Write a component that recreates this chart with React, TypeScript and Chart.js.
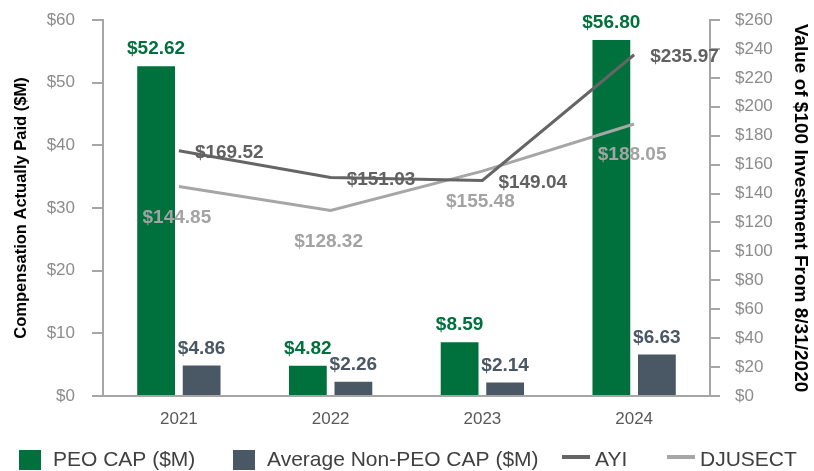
import React, { useEffect, useRef } from 'react';
import { Chart, registerables } from 'chart.js';

Chart.register(...registerables);

const categories = ['2021', '2022', '2023', '2024'];
const peoCap = [52.62, 4.82, 8.59, 56.8];
const nonPeoCap = [4.86, 2.26, 2.14, 6.63];
const ayi = [169.52, 151.03, 149.04, 235.97];
const djusect = [144.85, 128.32, 155.48, 188.05];

const seriesNames = ['PEO CAP ($M)', 'Average Non-PEO CAP ($M)', 'AYI', 'DJUSECT'];
const leftMax = 60;
const leftStep = 10;
const rightMax = 260;
const rightStep = 20;

const FONT = '"Liberation Sans", Arial, Helvetica, sans-serif';
const GREEN = '#00703c';
const SLATE = '#4a5765';
const DARK = '#656565';
const LIGHT = '#a6a6a6';
const AXIS = '#a6a6a6';

// label placement style per dataset index
const labelModes = ['top', 'top', 'right', 'below'];
const labelColors = [GREEN, SLATE, '#616161', '#a3a3a3'];

const valueLabels = {
  id: 'valueLabels',
  afterDatasetsDraw(chart: any) {
    const ctx = chart.ctx;
    chart.data.datasets.forEach((ds: any, i: number) => {
      const meta = chart.getDatasetMeta(i);
      ctx.save();
      ctx.font = `bold 19px ${FONT}`;
      ctx.fillStyle = labelColors[i];
      ctx.textBaseline = 'middle';
      meta.data.forEach((el: any, j: number) => {
        const v = ds.data[j] as number;
        const text = '$' + v.toFixed(2);
        const mode = labelModes[i];
        if (mode === 'top') {
          ctx.textAlign = 'center';
          ctx.fillText(text, el.x, el.y - 17);
        } else if (mode === 'right') {
          ctx.textAlign = 'left';
          ctx.fillText(text, el.x + 16, el.y + 2);
        } else {
          ctx.textAlign = 'center';
          ctx.fillText(text, el.x - 2, el.y + 31);
        }
      });
      ctx.restore();
    });
  },
};

// legend item left edges and vertical center
const legendItemX = [19, 233, 562, 667];
const legendY = 460;

const customLegend = {
  id: 'customLegend',
  afterDraw(chart: any) {
    const ctx = chart.ctx;
    ctx.save();
    ctx.font = `21px ${FONT}`;
    ctx.textBaseline = 'middle';
    ctx.textAlign = 'left';
    chart.data.datasets.forEach((ds: any, i: number) => {
      const x = legendItemX[i];
      const isBar = ds.type === 'bar';
      if (isBar) {
        ctx.fillStyle = ds.backgroundColor;
        ctx.fillRect(x, legendY - 10, 22, 20);
        ctx.fillStyle = '#404040';
        ctx.fillText(ds.label, x + 34, legendY);
      } else {
        ctx.fillStyle = ds.borderColor;
        ctx.fillRect(x, legendY - 5, 28, 4);
        ctx.fillStyle = '#404040';
        ctx.fillText(ds.label, x + 33, legendY);
      }
    });
    ctx.restore();
  },
};

export default function App() {
  const canvasRef = useRef<HTMLCanvasElement | null>(null);

  useEffect(() => {
    const canvas = canvasRef.current;
    if (!canvas) return;
    Chart.defaults.font.family = FONT;
    const chart = new Chart(canvas, {
      type: 'bar',
      data: {
        labels: categories,
        datasets: [
          {
            type: 'bar',
            label: seriesNames[0],
            data: peoCap,
            backgroundColor: GREEN,
            yAxisID: 'y',
            order: 2,
            barPercentage: 0.83,
            categoryPercentage: 0.6,
          },
          {
            type: 'bar',
            label: seriesNames[1],
            data: nonPeoCap,
            backgroundColor: SLATE,
            yAxisID: 'y',
            order: 2,
            barPercentage: 0.83,
            categoryPercentage: 0.6,
          },
          {
            type: 'line',
            label: seriesNames[2],
            data: ayi,
            borderColor: DARK,
            backgroundColor: DARK,
            borderWidth: 3,
            pointRadius: 0,
            tension: 0,
            yAxisID: 'y1',
            order: 1,
          },
          {
            type: 'line',
            label: seriesNames[3],
            data: djusect,
            borderColor: LIGHT,
            backgroundColor: LIGHT,
            borderWidth: 3,
            pointRadius: 0,
            tension: 0,
            yAxisID: 'y1',
            order: 1,
          },
        ] as any,
      },
      options: {
        responsive: false,
        animation: false,
        layout: { padding: { top: 20, left: 0, right: 0, bottom: 0 } },
        plugins: {
          legend: { display: false },
          tooltip: { enabled: false },
        },
        scales: {
          x: {
            offset: true,
            grid: { display: false, drawTicks: false },
            border: { display: true, color: AXIS, width: 2 },
            ticks: { color: '#595959', font: { size: 17 }, padding: 13 },
            afterFit: (s: any) => {
              s.height = 75;
            },
          },
          y: {
            position: 'left',
            min: 0,
            max: leftMax,
            ticks: {
              stepSize: leftStep,
              callback: (v: any) => '$' + v,
              color: '#8c8c8c',
              font: { size: 17 },
              padding: 17,
            },
            grid: { drawOnChartArea: false, drawTicks: true, tickLength: 11, color: AXIS, lineWidth: 2 },
            border: { display: true, color: AXIS, width: 2 },
            title: {
              display: true,
              text: 'Compensation Actually Paid ($M)',
              color: '#000',
              font: { size: 16.5, weight: 'bold' },
              padding: { top: 12, bottom: 0 },
            },
            afterFit: (s: any) => {
              s.width = 103;
              s.paddingTop = 0;
              s.paddingBottom = 0;
            },
          },
          y1: {
            position: 'right',
            min: 0,
            max: rightMax,
            ticks: {
              stepSize: rightStep,
              callback: (v: any) => '$' + v,
              color: '#8c8c8c',
              font: { size: 17 },
              padding: 15,
            },
            grid: { drawOnChartArea: false, drawTicks: true, tickLength: 10, color: AXIS, lineWidth: 2 },
            border: { display: true, color: AXIS, width: 2 },
            title: {
              display: true,
              text: 'Value of $100 Investment From 8/31/2020',
              color: '#000',
              font: { size: 19, weight: 'bold' },
              padding: { top: 2, bottom: 0 },
            },
            afterFit: (s: any) => {
              s.width = 104;
              s.paddingTop = 0;
              s.paddingBottom = 0;
            },
          },
        } as any,
      },
      plugins: [valueLabels, customLegend],
    } as any);
    return () => chart.destroy();
  }, []);

  return (
    <canvas
      ref={canvasRef}
      width={814}
      height={471}
      style={{ position: 'absolute', left: 0, top: 0, display: 'block' }}
    />
  );
}
